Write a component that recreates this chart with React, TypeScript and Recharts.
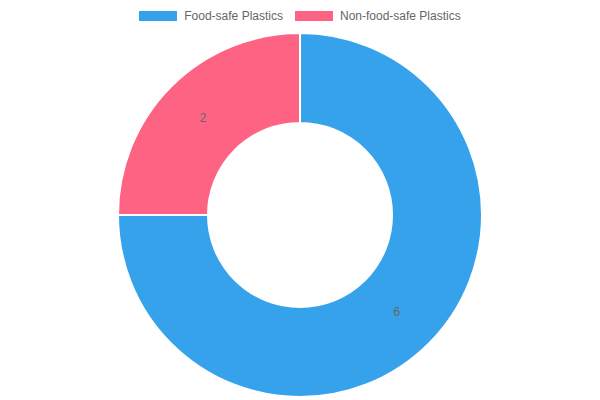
import { PieChart, Pie, Cell, Legend } from "recharts";

const categories = ["Food-safe Plastics", "Non-food-safe Plastics"];
const counts = [6, 2];
const colors = ["#36A2EB", "#FF6384"];

const data = categories.map((name, i) => ({ name, value: counts[i] }));

const RADIAN = Math.PI / 180;

const renderLabel = (props: any) => {
  const { cx, cy, midAngle, innerRadius, outerRadius, value } = props;
  const r = (innerRadius + outerRadius) / 2;
  const x = cx + r * Math.cos(-midAngle * RADIAN);
  const y = cy + r * Math.sin(-midAngle * RADIAN);
  return (
    <text
      x={x}
      y={y}
      fill="#666"
      fontSize={12}
      textAnchor="middle"
      dominantBaseline="central"
      fontFamily="'Liberation Sans', Arial, sans-serif"
    >
      {value}
    </text>
  );
};

const renderLegend = () => (
  <div
    style={{
      display: "flex",
      justifyContent: "center",
      alignItems: "center",
      fontFamily: "'Liberation Sans', Arial, sans-serif",
      fontSize: 12,
      color: "#666",
    }}
  >
    {categories.map((name, i) => (
      <div
        key={name}
        style={{ display: "flex", alignItems: "center", marginRight: i === 0 ? 12 : 0 }}
      >
        <span
          style={{
            display: "inline-block",
            width: 38,
            height: 10,
            background: colors[i],
            marginRight: 7,
          }}
        />
        <span>{name}</span>
      </div>
    ))}
  </div>
);

export default function App() {
  return (
    <div style={{ position: "absolute", left: 0, top: 0, width: 600, height: 400, background: "#fff" }}>
      <PieChart width={600} height={400} margin={{ top: 0, right: 0, bottom: 0, left: 0 }}>
        <Legend
          verticalAlign="top"
          content={renderLegend}
          wrapperStyle={{ top: 9, left: 0, width: 600 }}
        />
        <Pie
          data={data}
          dataKey="value"
          nameKey="name"
          cx={300}
          cy={201}
          innerRadius={92}
          outerRadius={182}
          startAngle={90}
          endAngle={-270}
          stroke="#fff"
          strokeWidth={2}
          label={renderLabel}
          labelLine={false}
          isAnimationActive={false}
        >
          {data.map((d, i) => (
            <Cell key={d.name} fill={colors[i]} />
          ))}
        </Pie>
      </PieChart>
    </div>
  );
}
